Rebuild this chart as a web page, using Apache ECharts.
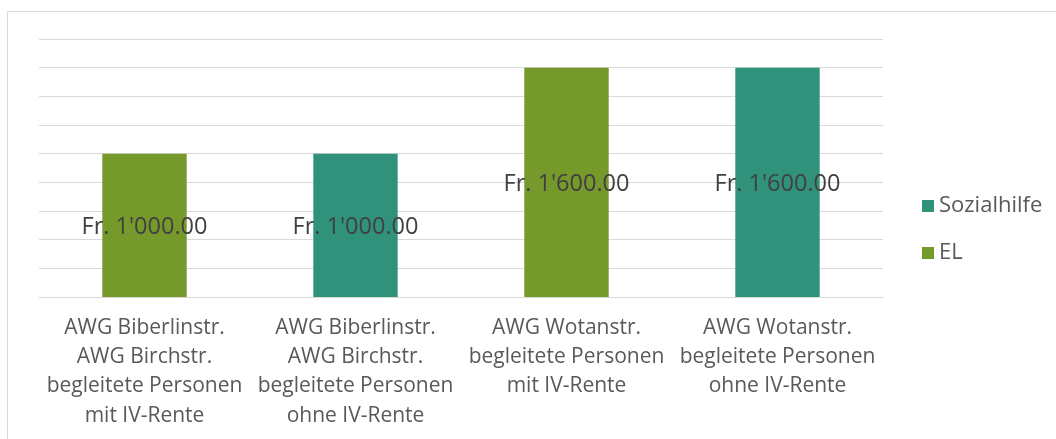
<!DOCTYPE html>
<html>
<head>
<meta charset="utf-8">
<script src="https://cdn.jsdelivr.net/npm/echarts@6/dist/echarts.min.js"></script>
<style>
  html, body { margin: 0; padding: 0; background: #fff; }
  #main { width: 1056px; height: 439px; }
</style>
</head>
<body>
<div id="main"></div>
<script>
// Kategorien
var categories = [
    "AWG Biberlinstr.\nAWG Birchstr.\nbegleitete Personen\nmit IV-Rente",
    "AWG Biberlinstr.\nAWG Birchstr.\nbegleitete Personen\nohne IV-Rente",
    "AWG Wotanstr.\nbegleitete Personen\nmit IV-Rente",
    "AWG Wotanstr.\nbegleitete Personen\nohne IV-Rente"
];

// Werte
var elValues = [1000, null, 1600, null];
var sozialValues = [null, 1000, null, 1600];

var colorEL = "#76992b";
var colorSozial = "#31927b";
var fontName = "'Open Sans', 'Noto Sans', sans-serif";

// Fr. 1'000.00
function formatFr(v) {
    var parts = v.toFixed(2).split(".");
    parts[0] = parts[0].replace(/\B(?=(\d{3})+(?!\d))/g, "'");
    return "Fr. " + parts[0] + "." + parts[1];
}

var myChart = echarts.init(document.getElementById('main'));

var barLabel = {
    show: true,
    position: 'inside',
    offset: [0, 2],
    color: '#404040',
    fontFamily: fontName,
    fontSize: 23.5,
    formatter: function (p) { return formatFr(p.value); }
};

var option = {
    animation: false,
    graphic: [{
        type: 'rect',
        left: 5, top: 9,
        shape: { width: 1070, height: 450 },
        style: { fill: 'none', stroke: '#d9d9d9', lineWidth: 1 }
    }],
    grid: { left: 39, right: 173, top: 39, bottom: 142 },
    legend: {
        orient: 'vertical',
        left: 922,
        top: 195,
        padding: 0,
        itemWidth: 12,
        itemHeight: 12,
        itemGap: 25,
        icon: 'rect',
        data: ['Sozialhilfe', 'EL'],
        textStyle: { color: '#595959', fontFamily: fontName, fontSize: 22 }
    },
    xAxis: {
        type: 'category',
        data: categories,
        axisTick: { show: false },
        axisLine: { lineStyle: { color: '#d9d9d9', width: 1 } },
        axisLabel: {
            interval: 0,
            margin: 16,
            color: '#595959',
            fontFamily: fontName,
            fontSize: 21,
            lineHeight: 29.3,
            verticalAlign: 'top'
        }
    },
    yAxis: {
        type: 'value',
        min: 0,
        max: 1800,
        interval: 200,
        axisLabel: { show: false },
        axisLine: { show: false },
        axisTick: { show: false },
        splitLine: { lineStyle: { color: '#d9d9d9', width: 1 } }
    },
    series: [
        {
            name: 'EL',
            type: 'bar',
            stack: 'total',
            barWidth: '40%',
            itemStyle: { color: colorEL },
            label: barLabel,
            data: elValues
        },
        {
            name: 'Sozialhilfe',
            type: 'bar',
            stack: 'total',
            barWidth: '40%',
            itemStyle: { color: colorSozial },
            label: barLabel,
            data: sozialValues
        }
    ]
};

myChart.setOption(option);
</script>
</body>
</html>
